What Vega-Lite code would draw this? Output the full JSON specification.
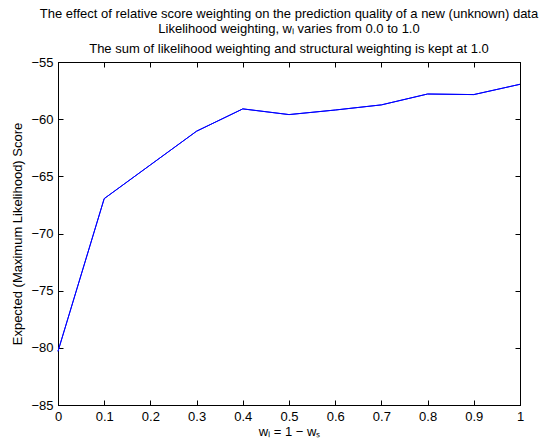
{
  "$schema": "https://vega.github.io/schema/vega-lite/v6.json",
  "width": 462,
  "height": 343,
  "autosize": {"type": "none"},
  "padding": {"left": 58, "top": 62, "right": 30, "bottom": 40},
  "background": "white",
  "config": {
    "font": "Liberation Sans",
    "view": {"stroke": "black", "strokeWidth": 1},
    "axis": {
      "domainColor": "black", "tickColor": "black", "labelColor": "black", "titleColor": "black",
      "labelFont": "Liberation Sans", "titleFont": "Liberation Sans",
      "labelFontSize": 13, "titleFontSize": 13, "titleFontWeight": "normal",
      "grid": false, "tickSize": -5, "tickWidth": 1, "domainWidth": 1
    }
  },
  "title": {
    "text": ["The effect of relative score weighting on the prediction quality of a new (unknown) data", "Likelihood weighting, wₗ varies from 0.0 to 1.0"],
    "subtitle": "The sum of likelihood weighting and structural weighting is kept at 1.0",
    "fontSize": 13, "fontWeight": "normal", "subtitleFontSize": 13, "color": "black", "subtitleColor": "black",
    "font": "Liberation Sans", "subtitleFont": "Liberation Sans",
    "lineHeight": 15, "subtitleLineHeight": 13, "subtitlePadding": 7, "offset": 0, "anchor": "middle"
  },
  "data": {"values": [
    {"w": 0.0, "score": -80.3},
    {"w": 0.1, "score": -66.95},
    {"w": 0.2, "score": -64.0},
    {"w": 0.3, "score": -61.05},
    {"w": 0.4, "score": -59.1},
    {"w": 0.5, "score": -59.6},
    {"w": 0.6, "score": -59.2},
    {"w": 0.7, "score": -58.75},
    {"w": 0.8, "score": -57.8},
    {"w": 0.9, "score": -57.85},
    {"w": 1.0, "score": -56.95}
  ]},
  "layer": [
    {
      "mark": {"type": "line", "color": "#0000ff", "strokeWidth": 1},
      "encoding": {
        "x": {"field": "w", "type": "quantitative", "scale": {"domain": [0, 1], "nice": false, "zero": false},
              "axis": {"orient": "bottom", "values": [0, 0.1, 0.2, 0.3, 0.4, 0.5, 0.6, 0.7, 0.8, 0.9, 1], "format": "~g", "title": "wₗ = 1 − wₛ", "labelPadding": 10, "titlePadding": 2, "labelFlush": false}},
        "y": {"field": "score", "type": "quantitative", "scale": {"domain": [-85, -55], "nice": false, "zero": false},
              "axis": {"orient": "left", "values": [-85, -80, -75, -70, -65, -60, -55], "title": "Expected (Maximum Likelihood) Score", "labelPadding": 10, "titlePadding": 6, "labelFlush": false}}
      }
    },
    {
      "mark": {"type": "line", "color": "#0000ff", "strokeWidth": 1},
      "encoding": {
        "x": {"field": "w", "type": "quantitative", "scale": {"domain": [0, 1], "nice": false, "zero": false},
              "axis": {"orient": "top", "values": [0, 0.1, 0.2, 0.3, 0.4, 0.5, 0.6, 0.7, 0.8, 0.9, 1], "labels": false, "title": null}},
        "y": {"field": "score", "type": "quantitative", "scale": {"domain": [-85, -55], "nice": false, "zero": false},
              "axis": {"orient": "right", "values": [-85, -80, -75, -70, -65, -60, -55], "labels": false, "title": null}}
      }
    }
  ],
  "resolve": {"axis": {"x": "independent", "y": "independent"}}
}
